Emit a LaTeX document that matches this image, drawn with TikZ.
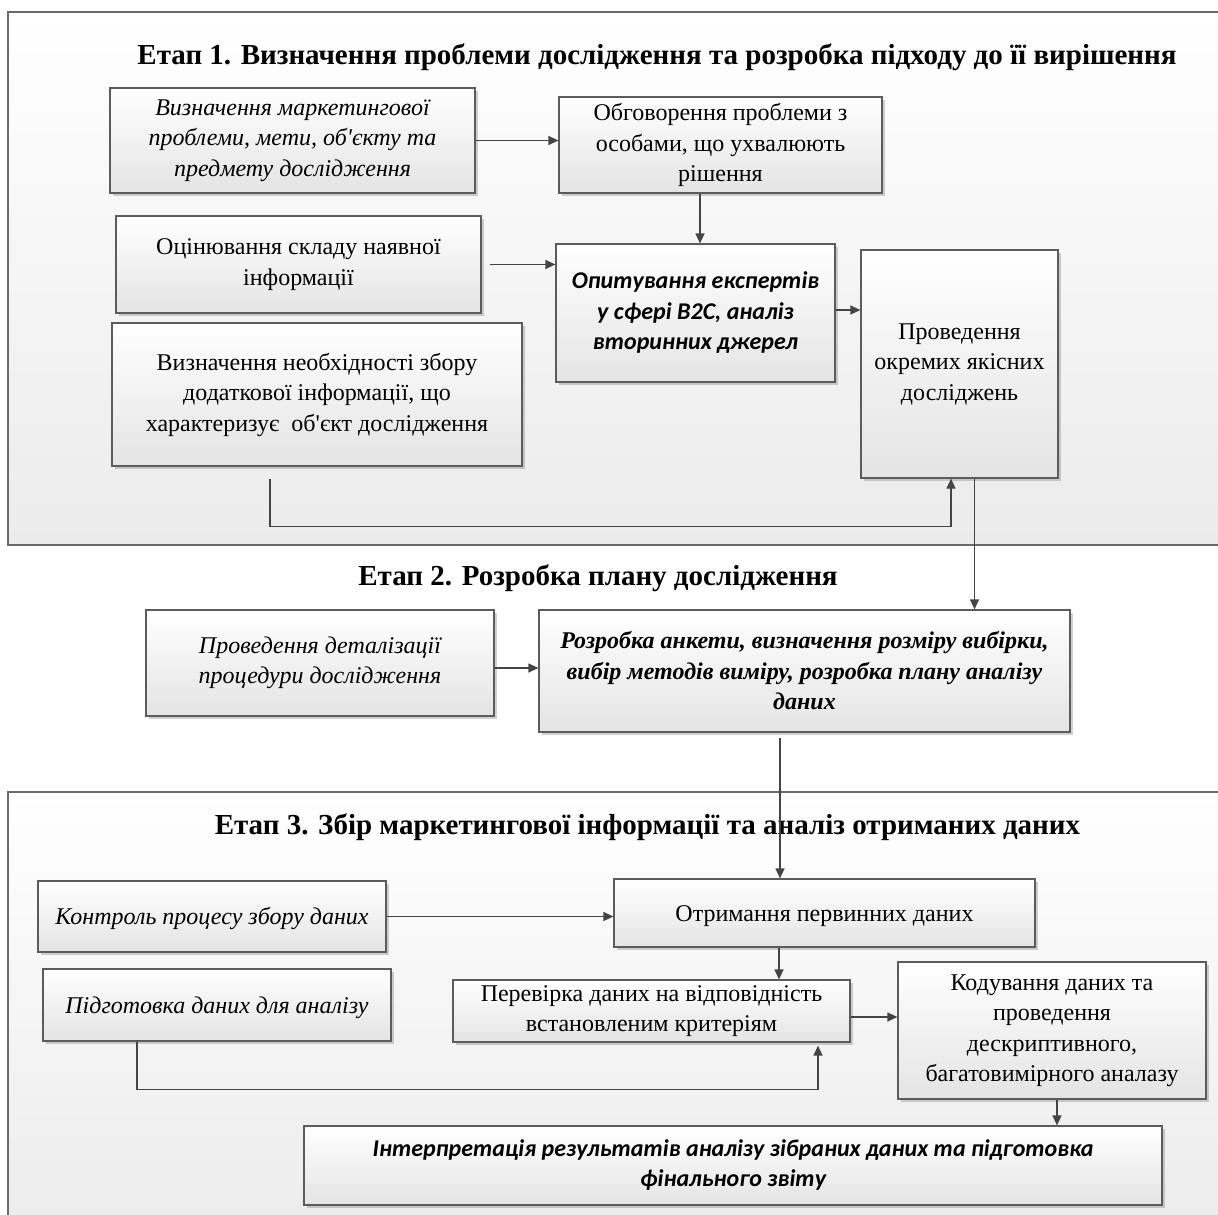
\documentclass[tikz,border=0pt]{standalone}
\usepackage{fontspec}
\setmainfont{Liberation Serif}
\newfontfamily\calfont{Carlito}
\usetikzlibrary{arrows.meta,shadows}
\definecolor{boxline}{HTML}{5C5C5C}
\definecolor{boxbot}{HTML}{E4E4E4}
\definecolor{panelline}{HTML}{6A6A6A}
\definecolor{panelbot}{HTML}{EBEBEB}
\definecolor{arrcol}{HTML}{454545}
\newcommand{\apo}{\textquotesingle}
\begin{document}
\begin{tikzpicture}[x=1pt,y=-1pt,
  box/.style={draw=boxline, line width=1.2pt, top color=white, bottom color=boxbot,
    align=center, font=\fontsize{24}{30.5}\selectfont, inner sep=0pt,
    execute at begin node={\rule{0pt}{22pt}},
    drop shadow={shadow xshift=2.5pt, shadow yshift=-2.5pt, opacity=0.3, fill=black!60}},
  panel/.style={draw=panelline, line width=1.4pt, top color=white, bottom color=panelbot},
  arr/.style={draw=arrcol, line width=1.2pt, -{Triangle[length=10pt,width=9pt]}},
  ttl/.style={font=\bfseries\fontsize{29}{32}\selectfont, inner sep=0pt}
]
\useasboundingbox (0,0) rectangle (1218,1215);
\clip (0,0) rectangle (1218,1215);
\fill[white] (0,0) rectangle (1218,1215);
% panels
\path[panel] (8,12) rectangle (1240,545);
\path[panel] (8,792) rectangle (1240,1240);
% titles
\node[ttl] (t1) at (657,57) {Етап 1. Визначення проблеми дослідження та розробка підходу до її вирішення};
\node[ttl] (t2) at (598,578) {Етап 2. Розробка плану дослідження};
\node[ttl] (t3) at (647.5,827) {Етап 3. Збір маркетингової інформації та аналіз отриманих даних};
% stage 1
\node[box, minimum width=365pt, minimum height=105pt] (A) at (292.5,140.5)
  {\itshape Визначення маркетингової\\ \itshape проблеми, мети, об\apo єкту та\\ \itshape предмету дослідження};
\node[box, minimum width=323pt, minimum height=96pt] (B) at (720.5,145)
  {Обговорення проблеми з\\ особами, що ухвалюють\\ рішення};
\node[box, minimum width=365pt, minimum height=97pt] (C) at (298.5,264.5)
  {Оцінювання складу наявної\\ інформації};
\node[box, minimum width=279pt, minimum height=138pt, font=\calfont\bfseries\itshape\fontsize{24}{30.5}\selectfont] (D) at (695.5,313)
  {Опитування експертів\\ у сфері B2C, аналіз\\ вторинних джерел};
\node[box, minimum width=197pt, minimum height=228pt] (E) at (959.5,364)
  {Проведення\\ окремих якісних\\ досліджень};
\node[box, minimum width=410pt, minimum height=143pt] (F) at (317,394.5)
  {Визначення необхідності збору\\ додаткової інформації, що\\ характеризує~ об\apo єкт дослідження};
% stage 2
\node[box, minimum width=348pt, minimum height=106pt] (G) at (320,663)
  {\itshape Проведення деталізації\\ \itshape процедури дослідження};
\node[box, minimum width=531pt, minimum height=122pt, font=\bfseries\itshape\fontsize{24}{30.5}\selectfont] (H) at (804.5,671)
  {Розробка анкети, визначення розміру вибірки,\\ вибір методів виміру, розробка плану аналізу\\ даних};
% stage 3
\node[box, minimum width=348pt, minimum height=71pt] (I) at (212,916.5)
  {\itshape Контроль процесу збору даних};
\node[box, minimum width=421pt, minimum height=68pt] (J) at (824.5,913)
  {Отримання первинних даних};
\node[box, minimum width=348pt, minimum height=72pt] (K) at (217,1005)
  {\itshape Підготовка даних для аналізу};
\node[box, minimum width=397pt, minimum height=62pt] (L) at (651.5,1011)
  {Перевірка даних на відповідність\\ встановленим критеріям};
\node[box, minimum width=308pt, minimum height=137pt] (M) at (1052,1030.5)
  {Кодування даних та\\ проведення\\ дескриптивного,\\ багатовимірного аналазу};
\node[box, minimum width=858pt, minimum height=79pt, font=\calfont\bfseries\itshape\fontsize{24}{30}\selectfont] (N) at (733,1165.5)
  {Інтерпретація результатів аналізу зібраних даних та підготовка\\ фінального звіту};
% helper coordinates
\path ([xshift=4.5pt]D.north) coordinate (d1);
\path ([yshift=3pt]D.east) coordinate (d2);
\path ([xshift=-47pt,yshift=-12pt]F.south) coordinate (f1);
\path ([xshift=-8.5pt]E.south) coordinate (e1);
\path ([xshift=15pt]E.south) coordinate (e2);
\path ([yshift=-5pt]G.east) coordinate (g1);
\path ([xshift=-24.5pt,yshift=-5pt]H.south) coordinate (h1);
\path ([xshift=-45.5pt]J.south) coordinate (j1);
\path ([yshift=-6pt]L.east) coordinate (l1);
\path ([xshift=-80pt]K.south) coordinate (k1);
\path ([xshift=166.5pt,yshift=-3pt]L.south) coordinate (l2);
\path ([xshift=5pt]M.south) coordinate (m1);
% connectors
\draw[arr] (A.east) -- (A.east -| B.west);
\draw[arr] (d1 |- B.south) -- (d1);
\draw[arr, shorten <=8pt] (C.east) -- (C.east -| D.west);
\draw[arr] (d2) -- (d2 -| E.west);
\draw[arr] (f1) -- ++(0,48) -| (e1);
\draw[arr] (e2) -- (e2 |- H.north);
\draw[arr] (g1) -- (g1 -| H.west);
\draw[arr] (h1) -- (h1 |- J.north);
\draw[arr] (I.east) -- (I.east -| J.west);
\draw[arr] (j1) -- (j1 |- L.north);
\draw[arr] (l1) -- (l1 -| M.west);
\draw[arr] (k1) -- ++(0,48) -| (l2);
\draw[arr] (m1) -- (m1 |- N.north);
\end{tikzpicture}
\end{document}
